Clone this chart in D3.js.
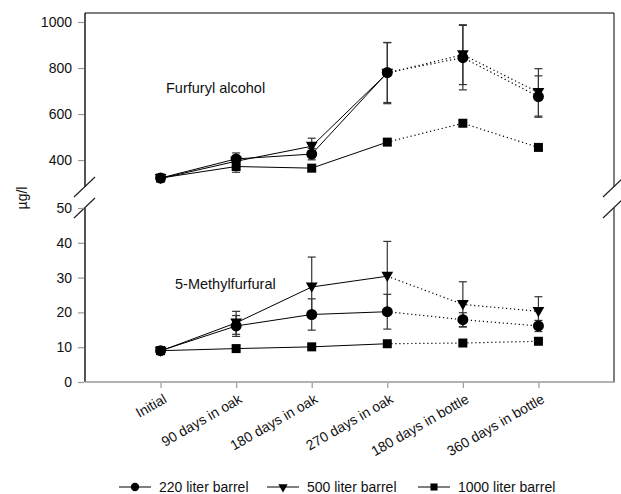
<!DOCTYPE html>
<html><head><meta charset="utf-8">
<script src="https://cdn.jsdelivr.net/npm/d3@7"></script>
<style>
body{margin:0;background:#fff;}
text{font-family:"Liberation Sans",Arial,sans-serif;}
</style></head>
<body><svg id="c" width="621" height="494"></svg>
<script>
const categories = ["Initial","90 days in oak","180 days in oak","270 days in oak","180 days in bottle","360 days in bottle"];
const seriesNames = ["220 liter barrel","500 liter barrel","1000 liter barrel"];
// Furfuryl alcohol (µg/l)
const furfuryl220 = [322, 405, 426, 780, 845, 676];
const furfuryl500 = [320, 395, 460, 778, 858, 694];
const furfuryl1000 = [322, 372, 365, 478, 560, 455];
const furfurylErr220 = [8, 26, 25, 130, 140, 90];
const furfurylErr500 = [8, 20, 35, 133, 130, 103];
const furfurylErr1000 = [5, 25, 15, 8, 12, 6];
// 5-Methylfurfural (µg/l)
const methyl220 = [9.0, 16.1, 19.4, 20.2, 17.9, 16.1];
const methyl500 = [8.9, 17.0, 27.3, 30.4, 22.3, 20.3];
const methyl1000 = [9.0, 9.6, 10.1, 11.0, 11.2, 11.7];
const methylErr220 = [0.5, 3.0, 4.5, 5.0, 2.0, 1.6];
const methylErr500 = [0.5, 3.3, 8.6, 10.0, 6.5, 4.2];
const methylErr1000 = [0.3, 0.5, 0.5, 0.5, 0.5, 0.5];
const topTicks = [400, 600, 800, 1000];
const bottomTicks = [0, 10, 20, 30, 40, 50];

const svg = d3.select("#c");
const L = 85, R = 614, T = 13, B = 382, topBot = 187, botTop = 208;
const x = d3.scalePoint().domain(categories).range([L, R]).padding(1);
const yTop = d3.scaleLinear().domain([283, 1039]).range([topBot, T]);
const yBot = d3.scaleLinear().domain([0, 50]).range([B, botTop]);

// frame
const fr = svg.append("g").attr("fill", "none");
[[L, "#555", 2], [R, "#555", 1.5]].forEach(([xx, col, w]) => {
  fr.append("line").attr("x1", xx).attr("x2", xx).attr("y1", T).attr("y2", topBot).attr("stroke", col).attr("stroke-width", w);
  fr.append("line").attr("x1", xx).attr("x2", xx).attr("y1", botTop).attr("y2", B).attr("stroke", col).attr("stroke-width", w);
  [topBot, botTop].forEach(yy => {
    fr.append("line").attr("x1", xx - 11).attr("y1", yy + 10).attr("x2", xx + 10).attr("y2", yy - 10).attr("stroke", "#222").attr("stroke-width", 1.2);
  });
});
fr.append("line").attr("x1", L).attr("x2", R).attr("y1", T).attr("y2", T).attr("stroke", "#000").attr("stroke-width", 1.2);
fr.append("line").attr("x1", L).attr("x2", R + 1).attr("y1", B).attr("y2", B).attr("stroke", "#999").attr("stroke-width", 1.6);

function styleAxis(g) {
  g.select(".domain").remove();
  g.selectAll(".tick line").attr("stroke", "#999").attr("stroke-width", 1.2);
  g.selectAll(".tick text").attr("fill", "#111").style("font-size", "14px").style("font-family", "Liberation Sans, Arial, sans-serif");
}
svg.append("g").attr("transform", `translate(${L - 1},0)`)
  .call(d3.axisLeft(yTop).tickValues(topTicks).tickSize(6).tickPadding(6).tickFormat(d3.format("d")))
  .call(styleAxis);
svg.append("g").attr("transform", `translate(${L - 1},0)`)
  .call(d3.axisLeft(yBot).tickValues(bottomTicks).tickSize(6).tickPadding(6).tickFormat(d3.format("d")))
  .call(styleAxis);
svg.append("g").attr("transform", `translate(0,${B + 1})`)
  .call(d3.axisBottom(x).tickSize(5).tickFormat(""))
  .call(styleAxis);

// rotated x labels
svg.append("g").selectAll("text").data(categories).join("text")
  .attr("transform", d => `translate(${x(d) + 2},${B + 11}) rotate(-30)`)
  .attr("text-anchor", "end").attr("dy", "0.72em")
  .style("font-size", "14px").attr("fill", "#111")
  .text(d => d);

// y label
svg.append("text").attr("transform", `translate(22,198) rotate(-90)`)
  .attr("text-anchor", "middle").attr("dy", "0.35em")
  .style("font-size", "14px").attr("fill", "#111").text("µg/l");

// panel labels
svg.append("text").attr("x", 166).attr("y", 93).style("font-size", "14.5px").attr("fill", "#111").text("Furfuryl alcohol");
svg.append("text").attr("x", 175).attr("y", 289).style("font-size", "14.5px").attr("fill", "#111").text("5-Methylfurfural");

const shapes = [d3.symbolCircle, d3.symbolTriangle, d3.symbolSquare];
const sizes = [95, 60, 81];
const rots = [0, 180, 0];

function drawPanel(y, vals, errs) {
  const g = svg.append("g");
  // error bars
  vals.forEach((s, si) => {
    s.forEach((v, i) => {
      const e = errs[si][i];
      const xx = x(categories[i]);
      const eg = g.append("g").attr("stroke", "#333").attr("stroke-width", 1.2);
      eg.append("line").attr("x1", xx).attr("x2", xx).attr("y1", y(v - e)).attr("y2", y(v + e));
      [v - e, v + e].forEach(vv => eg.append("line").attr("x1", xx - 4).attr("x2", xx + 4).attr("y1", y(vv)).attr("y2", y(vv)));
    });
  });
  // lines
  vals.forEach((s, si) => {
    const pts = s.map((v, i) => [x(categories[i]), y(v)]);
    g.append("path").attr("d", d3.line()(pts.slice(0, 4))).attr("fill", "none").attr("stroke", "#000").attr("stroke-width", 1);
    g.append("path").attr("d", d3.line()(pts.slice(3))).attr("fill", "none").attr("stroke", "#000").attr("stroke-width", 1.2).attr("stroke-dasharray", "1.2,2.8");
  });
  // markers
  vals.forEach((s, si) => {
    g.append("g").selectAll("path").data(s).join("path")
      .attr("d", d3.symbol().type(shapes[si]).size(sizes[si]))
      .attr("transform", (v, i) => `translate(${x(categories[i])},${y(v) + (si === 1 ? -1 : 0)}) rotate(${rots[si]})`)
      .attr("fill", "#000");
  });
}
drawPanel(yTop, [furfuryl220, furfuryl500, furfuryl1000], [furfurylErr220, furfurylErr500, furfurylErr1000]);
drawPanel(yBot, [methyl220, methyl500, methyl1000], [methylErr220, methylErr500, methylErr1000]);

// legend
const legX = [119, 267, 418];
const lg = svg.append("g");
seriesNames.forEach((n, i) => {
  const x0 = legX[i], yy = 487;
  lg.append("line").attr("x1", x0).attr("x2", x0 + 32).attr("y1", yy).attr("y2", yy).attr("stroke", "#000").attr("stroke-width", 1);
  lg.append("path").attr("d", d3.symbol().type(shapes[i]).size([55, 38, 50][i]))
    .attr("transform", `translate(${x0 + 16},${yy}) rotate(${rots[i]})`).attr("fill", "#000");
  lg.append("text").attr("x", x0 + 40).attr("y", yy).attr("dy", "0.35em").style("font-size", "14px").attr("fill", "#111").text(n);
});
</script></body></html>
